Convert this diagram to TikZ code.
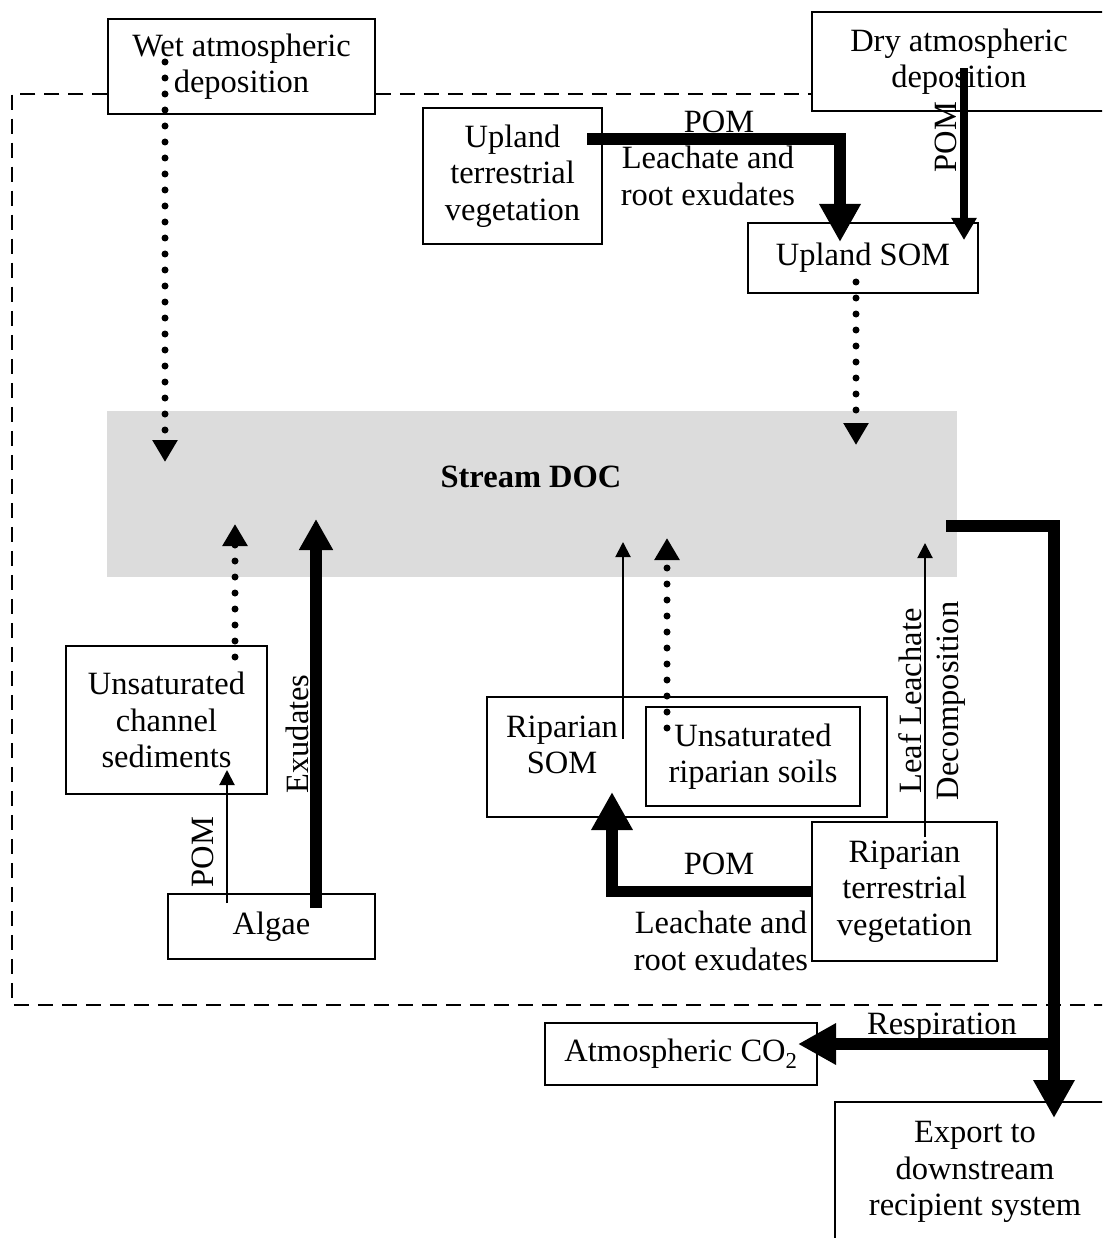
\documentclass[tikz,border=0pt]{standalone}
\usepackage{fontspec}
\setmainfont{Liberation Serif}
\usetikzlibrary{arrows.meta,calc,positioning}
\definecolor{docgray}{RGB}{220,220,220}

\begin{document}
\begin{tikzpicture}[x=1pt,y=-1pt,font=\fontsize{32.5}{36.5}\selectfont]
		\tikzstyle{box} = [draw,line width=1.5pt,align=center,inner sep=0pt]
		\tikzstyle{lbl} = [align=center,inner sep=0pt]
		\tikzstyle{boundary} = [line width=1.5pt,dash pattern=on 15pt off 9pt]
		\tikzstyle{bigflow} = [line width=11.5pt,-{Triangle[length=38pt,width=39pt]}]
		\tikzstyle{midflow} = [line width=7.5pt,-{Triangle[length=22pt,width=24pt]}]
		\tikzstyle{thinflow} = [line width=2pt,-{Triangle[length=15pt,width=15pt]}]
		\tikzstyle{dotflow} = [line width=7pt,line cap=round,dash pattern=on 0pt off 16pt,-{Triangle[length=22pt,width=24pt]}]
		\useasboundingbox (0,0) rectangle (1102,1238);
		\clip (0,0) rectangle (1102,1238);
		% Deposition
		\node[box,minimum width=267pt,minimum height=95pt] at (241.5,66.5) (wet) {Wet atmospheric\\deposition};
		\node[box,minimum width=294pt,minimum height=99pt] at (959,61.5) (dry) {Dry atmospheric\\deposition};
		% Upland
		\node[box,minimum width=179pt,minimum height=136pt] at (512.5,176) (upveg) {Upland\\terrestrial\\vegetation};
		\node[box,minimum width=230pt,minimum height=70pt] at (863,258) (upsom) {Upland SOM};
		% Stream
		\node[fill=docgray,minimum width=850pt,minimum height=166pt,inner sep=0pt] at (532,494) (doc) {};
		\node[lbl,font=\fontsize{32.5}{36.5}\selectfont\bfseries] at (531,477) (doctxt) {Stream DOC};
		% Channel
		\node[box,minimum width=201pt,minimum height=148pt] at (166.5,720) (unsatch) {Unsaturated\\channel\\sediments};
		\node[box,minimum width=207pt,minimum height=65pt] at (271.5,926.5) (algae) {Algae};
		% Riparian
		\node[box,minimum width=400pt,minimum height=120pt] at (687,757) (ripsom) {};
		\node[lbl] at (562,745) (ripsomtxt) {Riparian\\SOM};
		\node[box,minimum width=214pt,minimum height=99pt] at (753,756.5) (ripsoil) {Unsaturated\\riparian soils};
		\node[box,minimum width=185pt,minimum height=139pt] at (904.5,891.5) (ripveg) {Riparian\\terrestrial\\vegetation};
		% Losses
		\node[box,minimum width=272pt,minimum height=62pt] at (681,1054) (co2) {Atmospheric CO\textsubscript{2}};
		\node[box,minimum width=280pt,minimum height=140pt] at (975,1172) (export) {Export to\\downstream\\recipient system};
		% Boundary
		\draw[boundary] (wet.west |- 0,94) -| (12,1005) -- (1110,1005);
		\draw[boundary] (wet.east |- 0,94) -- (dry.west |- 0,94);
		% Atmospheric inputs
		\coordinate (wetsrc) at (165,62);
		\coordinate (wetin) at (165,462);
		\draw[dotflow] (wetsrc) -- (wetin);
		\coordinate (drysrc) at (964,68);
		\coordinate (drysom) at (964,240);
		\draw[midflow] (drysrc) -- (drysom);
		\node[lbl,rotate=90] at (946,137) (drypom) {POM};
		% Upland flows
		\coordinate (upvegout) at (587,139);
		\coordinate (upsomin) at (840,242);
		\draw[bigflow] (upvegout) -| (upsomin);
		\node[lbl] at (719,122) (uppom) {POM};
		\node[lbl] at (708,176) (upleach) {Leachate and\\root exudates};
		\coordinate (upsomout) at (856,282);
		\coordinate (docup) at (856,445);
		\draw[dotflow] (upsomout) -- (docup);
		% Channel flows
		\coordinate (chout) at (235,657);
		\coordinate (docch) at (235,524);
		\draw[dotflow] (chout) -- (docch);
		\coordinate (algaeup) at (316,908);
		\coordinate (docalgae) at (316,519);
		\draw[bigflow,-{Triangle[length=31pt,width=32pt]}] (algaeup) -- (docalgae);
		\node[lbl,rotate=90] at (297,734) (exud) {Exudates};
		\coordinate (algaepom) at (227,903);
		\coordinate (chin) at (227,770);
		\draw[thinflow] (algaepom) -- (chin);
		\node[lbl,rotate=90] at (203,852) (algpom) {POM};
		% Riparian flows
		\coordinate (ripsomout) at (623,739);
		\coordinate (docripsom) at (623,542);
		\draw[thinflow] (ripsomout) -- (docripsom);
		\coordinate (ripsoilout) at (667,728);
		\coordinate (docripsoil) at (667,538);
		\draw[dotflow] (ripsoilout) -- (docripsoil);
		\coordinate (ripvegup) at (925,837);
		\coordinate (docleaf) at (925,543);
		\draw[thinflow] (ripvegup) -- (docleaf);
		\node[lbl,rotate=90] at (932,701) (leaf) {Leaf Leachate\\Decomposition};
		\coordinate (ripsomin) at (612,792);
		\draw[bigflow] (ripveg.west) -| (ripsomin);
		\node[lbl] at (719,864) (rippom) {POM};
		\node[lbl] at (721,941) (ripleach) {Leachate and\\root exudates};
		% Output
		\coordinate (docout) at (946,526);
		\coordinate (split) at (1054,1044);
		\coordinate (exportin) at (1054,1118);
		\coordinate (co2in) at (798,1044);
		\draw[bigflow] (docout) -| (exportin);
		\draw[bigflow] (split) -- (co2in);
		\node[lbl] at (942,1027) (resp) {Respiration};
\end{tikzpicture}
\end{document}
